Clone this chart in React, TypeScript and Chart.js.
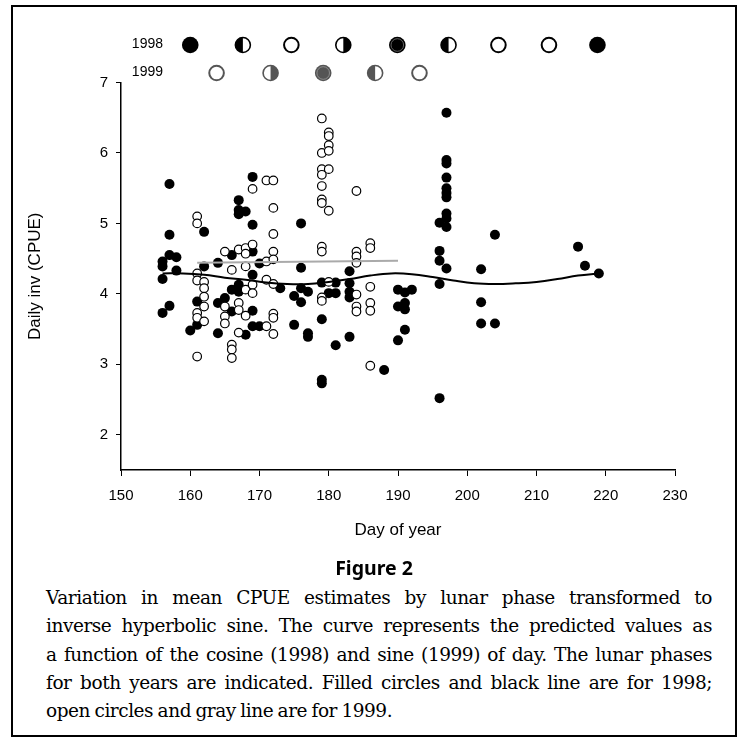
import React, { useEffect, useRef } from "react";
import { Chart, registerables } from "chart.js";

Chart.register(...registerables);

// ---- axis ticks ----
const xTicks = [150, 160, 170, 180, 190, 200, 210, 220, 230];
const yTicks = [2, 3, 4, 5, 6, 7];

// ---- 1998 observations (filled circles): [day, value] ----
const filled1998: [number, number][] = [
  [156, 4.46], [156, 4.39], [156, 4.21], [156, 3.73],
  [157, 5.56], [157, 4.84], [157, 4.55], [157, 3.83],
  [158, 4.52], [158, 4.33],
  [160, 3.48],
  [161, 3.89], [161, 3.56],
  [162, 4.88], [162, 4.39],
  [164, 4.44], [164, 3.87], [164, 3.44],
  [165, 3.94],
  [166, 4.55], [166, 4.06], [166, 3.75],
  [167, 5.33], [167, 5.19], [167, 5.13], [167, 4.13], [167, 4.03],
  [168, 5.17], [168, 3.42],
  [169, 5.66], [169, 4.98], [169, 4.6], [169, 4.27], [169, 3.76], [169, 3.54],
  [170, 4.43], [170, 3.54],
  [173, 4.08],
  [175, 3.97], [175, 3.56],
  [176, 5.0], [176, 4.37], [176, 4.08], [176, 3.88],
  [177, 4.03], [177, 3.44], [177, 3.39],
  [179, 4.16], [179, 3.64], [179, 2.78], [179, 2.73],
  [180, 4.01],
  [181, 4.16], [181, 4.01], [181, 3.27],
  [183, 4.32], [183, 4.15], [183, 4.03], [183, 3.95], [183, 3.39],
  [188, 2.92],
  [190, 4.06], [190, 3.82], [190, 3.34],
  [191, 4.02], [191, 3.87], [191, 3.78], [191, 3.49],
  [192, 4.06],
  [196, 5.01], [196, 4.61], [196, 4.47], [196, 4.14], [196, 2.52],
  [197, 6.57], [197, 5.9], [197, 5.85], [197, 5.65], [197, 5.5], [197, 5.43],
  [197, 5.37], [197, 5.14], [197, 5.07], [197, 4.95], [197, 4.36],
  [202, 4.35], [202, 3.88], [202, 3.58],
  [204, 4.84], [204, 3.58],
  [216, 4.67],
  [217, 4.4],
  [219, 4.29],
];

// ---- 1999 observations (open circles): [day, value] ----
const open1999: [number, number][] = [
  [161, 5.1], [161, 5.0], [161, 4.29], [161, 4.19], [161, 3.73], [161, 3.66], [161, 3.11],
  [162, 4.17], [162, 4.08], [162, 3.96], [162, 3.82], [162, 3.61],
  [165, 4.6], [165, 3.82], [165, 3.68], [165, 3.58],
  [166, 4.34], [166, 3.28], [166, 3.21], [166, 3.09],
  [167, 4.63], [167, 3.87], [167, 3.77], [167, 3.45],
  [168, 4.65], [168, 4.57], [168, 4.39], [168, 4.06], [168, 3.69],
  [169, 5.49], [169, 4.7], [169, 4.13], [169, 4.01],
  [171, 5.61], [171, 4.46], [171, 4.2], [171, 3.54],
  [172, 5.61], [172, 5.22], [172, 4.85], [172, 4.6], [172, 4.49], [172, 4.14],
  [172, 3.72], [172, 3.66], [172, 3.43],
  [179, 6.49], [179, 6.0], [179, 5.77], [179, 5.69], [179, 5.53], [179, 5.34],
  [179, 5.29], [179, 4.67], [179, 4.6], [179, 3.95], [179, 3.9],
  [180, 6.29], [180, 6.24], [180, 6.11], [180, 6.03], [180, 5.77], [180, 5.18], [180, 4.17],
  [184, 5.46], [184, 4.6], [184, 4.53], [184, 4.44], [184, 3.99], [184, 3.82], [184, 3.75],
  [186, 4.72], [186, 4.65], [186, 4.1], [186, 3.87], [186, 3.76], [186, 2.98],
];

// ---- predicted curves ----
const curve1998Days = [156, 159, 162, 165, 168, 171, 174, 177, 180, 183, 186, 189, 192, 195, 198, 201, 204, 207, 210, 213, 216, 219];
const curve1998Values = [4.29, 4.29, 4.27, 4.23, 4.2, 4.16, 4.14, 4.14, 4.17, 4.21, 4.26, 4.29, 4.28, 4.24, 4.19, 4.15, 4.14, 4.15, 4.17, 4.21, 4.26, 4.29];
const curve1999Days = [161, 190];
const curve1999Values = [4.44, 4.47];

// ---- lunar phases ----
const lunar1998Days = [160, 167.6, 174.6, 182.1, 189.9, 197.3, 204.5, 211.8, 218.8];
const lunar1998Phases = ["full", "left", "new", "right", "fullring", "left", "new", "new", "full"];
const lunar1999Days = [163.8, 171.6, 179.2, 186.7, 193.1];
const lunar1999Phases = ["new", "right", "fullring", "left", "new"];

const SANS = "'Liberation Sans', Arial, Helvetica, sans-serif";

function drawPhase(ctx: CanvasRenderingContext2D, cx: number, cy: number, r: number, phase: string, color: string, ring: string) {
  ctx.save();
  ctx.lineWidth = 1.8;
  ctx.strokeStyle = color;
  if (phase === "full" || phase === "fullring") {
    ctx.beginPath();
    ctx.arc(cx, cy, r, 0, Math.PI * 2);
    ctx.fillStyle = color;
    ctx.fill();
    if (phase === "fullring") {
      ctx.beginPath();
      ctx.arc(cx, cy, r - 2, 0, Math.PI * 2);
      ctx.lineWidth = 0.8;
      ctx.strokeStyle = ring;
      ctx.stroke();
    }
  } else if (phase === "new") {
    ctx.beginPath();
    ctx.arc(cx, cy, r - 1, 0, Math.PI * 2);
    ctx.fillStyle = "#fff";
    ctx.fill();
    ctx.lineWidth = 2;
    ctx.stroke();
  } else {
    ctx.beginPath();
    ctx.arc(cx, cy, r - 0.8, 0, Math.PI * 2);
    ctx.fillStyle = "#fff";
    ctx.fill();
    ctx.beginPath();
    if (phase === "left") ctx.arc(cx, cy, r - 0.8, Math.PI / 2, (Math.PI * 3) / 2);
    else ctx.arc(cx, cy, r - 0.8, -Math.PI / 2, Math.PI / 2);
    ctx.closePath();
    ctx.fillStyle = color;
    ctx.fill();
    ctx.beginPath();
    ctx.arc(cx, cy, r - 0.8, 0, Math.PI * 2);
    ctx.lineWidth = 1.6;
    ctx.stroke();
  }
  ctx.restore();
}

const lunarPlugin = {
  id: "lunarPhases",
  afterDraw(chart: any) {
    const ctx: CanvasRenderingContext2D = chart.ctx;
    const xs = chart.scales.x;
    const top = chart.chartArea.top;
    const rows = [
      { label: "1998", days: lunar1998Days, phases: lunar1998Phases, color: "#000", ring: "#777", dy: -37.5 },
      { label: "1999", days: lunar1999Days, phases: lunar1999Phases, color: "#555", ring: "#999", dy: -9.5 },
    ];
    ctx.save();
    for (const row of rows) {
      const y = top + row.dy;
      ctx.fillStyle = "#000";
      ctx.font = `14px ${SANS}`;
      ctx.textAlign = "right";
      ctx.textBaseline = "middle";
      ctx.fillText(row.label, 163, y - 1);
      row.days.forEach((d, i) => {
        drawPhase(ctx, xs.getPixelForValue(d), y, 8.3, row.phases[i], row.color, row.ring);
      });
    }
    ctx.restore();
  },
};

function ChartCanvas() {
  const ref = useRef<HTMLCanvasElement | null>(null);
  useEffect(() => {
    if (!ref.current) return;
    const chart = new Chart(ref.current, {
      type: "scatter",
      data: {
        datasets: [
          {
            label: "1998 curve",
            data: curve1998Days.map((d, i) => ({ x: d, y: curve1998Values[i] })),
            showLine: true,
            borderColor: "#000",
            borderWidth: 2,
            pointRadius: 0,
            tension: 0.4,
            fill: false,
          } as any,
          {
            label: "1999 curve",
            data: curve1999Days.map((d, i) => ({ x: d, y: curve1999Values[i] })),
            showLine: true,
            borderColor: "#aaa",
            borderWidth: 2,
            pointRadius: 0,
            fill: false,
          } as any,
          {
            label: "1999",
            data: open1999.map(([d, v]) => ({ x: d, y: v })),
            pointRadius: 4.3,
            pointBackgroundColor: "#fff",
            pointBorderColor: "#000",
            pointBorderWidth: 1.2,
          },
          {
            label: "1998",
            data: filled1998.map(([d, v]) => ({ x: d, y: v })),
            pointRadius: 5,
            pointBackgroundColor: "#000",
            pointBorderColor: "#000",
            pointBorderWidth: 0,
          },
        ],
      },
      options: {
        animation: false,
        responsive: false,
        maintainAspectRatio: false,
        devicePixelRatio: 1,
        layout: { padding: { left: 0, right: 71, top: 82.5, bottom: 10 } },
        plugins: { legend: { display: false }, tooltip: { enabled: false } },
        scales: {
          x: {
            type: "linear",
            min: 150,
            max: 230,
            afterBuildTicks: (s: any) => {
              s.ticks = xTicks.map((v) => ({ value: v }));
            },
            afterFit: (s: any) => {
              s.height = 80;
            },
            grid: { display: true, drawOnChartArea: false, drawTicks: true, tickLength: 6, tickColor: "#000", tickWidth: 1 },
            border: { display: true, color: "#000", width: 1.5 },
            ticks: { color: "#000", font: { family: SANS, size: 15 }, padding: 11, maxRotation: 0, autoSkip: false },
            title: { display: true, text: "Day of year", color: "#000", font: { family: SANS, size: 17 }, padding: { top: 0, bottom: 9 } },
          },
          y: {
            type: "linear",
            min: 1.5,
            max: 7,
            afterBuildTicks: (s: any) => {
              s.ticks = yTicks.map((v) => ({ value: v }));
            },
            afterFit: (s: any) => {
              s.width = 121;
            },
            grid: { display: true, drawOnChartArea: false, drawTicks: true, tickLength: 5, tickColor: "#000", tickWidth: 1 },
            border: { display: true, color: "#000", width: 1.5 },
            ticks: { color: "#000", font: { family: SANS, size: 15 }, padding: 8, autoSkip: false },
            title: { display: true, text: "Daily inv (CPUE)", color: "#000", font: { family: SANS, size: 17 }, padding: { top: 25, bottom: 0 } },
          },
        },
      },
      plugins: [lunarPlugin],
    });
    return () => chart.destroy();
  }, []);
  return <canvas ref={ref} width={746} height={560} style={{ position: "absolute", left: 0, top: 0, width: 746, height: 560 }} />;
}

const captionLines = [
  "Variation in mean CPUE estimates by lunar phase transformed to",
  "inverse hyperbolic sine. The curve represents the predicted values as",
  "a function of the cosine (1998) and sine (1999) of day. The lunar phases",
  "for both years are indicated. Filled circles and black line are for 1998;",
  "open circles and gray line are for 1999.",
];

export default function App() {
  return (
    <div style={{ position: "absolute", left: 0, top: 0, width: 746, height: 742, background: "#fff" }}>
      <div
        style={{
          position: "absolute",
          left: 11,
          top: 5,
          width: 726,
          height: 732,
          border: "2px solid #000",
          boxSizing: "border-box",
        }}
      />
      <ChartCanvas />
      <div
        style={{
          position: "absolute",
          left: 11,
          top: 555,
          width: 726,
          textAlign: "center",
          fontFamily: "'Noto Sans', 'Open Sans', sans-serif",
          fontWeight: 700,
          fontSize: 19.5,
          lineHeight: "26px",
          color: "#000",
        }}
      >
        Figure 2
      </div>
      <div
        style={{
          position: "absolute",
          left: 46,
          top: 584,
          width: 666,
          fontFamily: "'DejaVu Serif', serif",
          fontSize: 18.5,
          letterSpacing: "-0.45px",
          wordSpacing: "-1px",
          lineHeight: "28.3px",
          color: "#000",
        }}
      >
        {captionLines.map((line, i) => (
          <div
            key={i}
            style={{
              whiteSpace: "nowrap",
              textAlign: i < captionLines.length - 1 ? "justify" : "left",
              textAlignLast: i < captionLines.length - 1 ? "justify" : "left",
            } as any}
          >
            {line}
          </div>
        ))}
      </div>
    </div>
  );
}
